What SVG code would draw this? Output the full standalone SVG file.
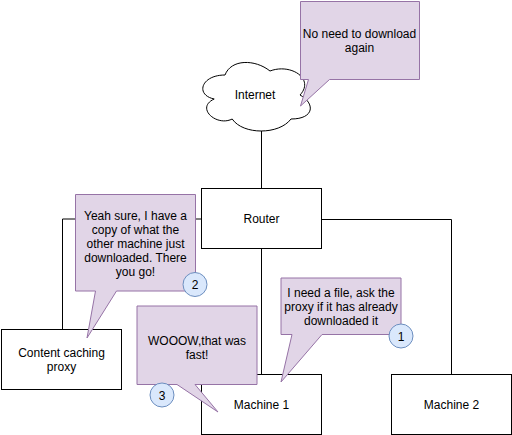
<svg xmlns="http://www.w3.org/2000/svg" width="512" height="435" viewBox="0 0 512 435">
<style>
.box{fill:#ffffff;stroke:#000000;stroke-width:1}
.call{fill:#e1d5e7;stroke:#9673a6;stroke-width:1}
.num{fill:#dae8fc;stroke:#6c8ebf;stroke-width:1}
.edge{fill:none;stroke:#000000;stroke-width:1}
text{font-family:"Liberation Sans",Arial,Helvetica,sans-serif;font-size:12px;fill:#000000;text-anchor:middle}
</style>
<rect width="512" height="435" fill="#ffffff"/>
<g id="connectors">
<path class="edge" d="M261.5,131 V188.5"/>
<path class="edge" d="M201.5,219 H62.5 V329.5"/>
<path class="edge" d="M261.5,248.5 V374.5"/>
<path class="edge" d="M321.5,219.5 H451.5 V374.5"/>
</g>
<g id="internet">
<path class="box" d="M225,75 C201,75 195,95 214.2,99 C195,107.8 216.6,127 232.2,119 C243,135 279,135 291,119 C315,119 315,103 300,95 C315,79 291,63 270,71 C255,59 231,59 225,75 Z"/>
<text x="255" y="99">Internet</text>
</g>
<g id="router">
<rect class="box" x="201.5" y="188.5" width="120" height="60"/>
<text x="261.5" y="223">Router</text>
</g>
<g id="proxy">
<rect class="box" x="1.5" y="329.5" width="120" height="60"/>
<text x="61.5" y="357">Content caching</text>
<text x="61.5" y="371">proxy</text>
</g>
<g id="machine1">
<rect class="box" x="201.5" y="374.5" width="120" height="60"/>
<text x="261.5" y="408.5">Machine 1</text>
</g>
<g id="machine2">
<rect class="box" x="391.5" y="374.5" width="120" height="60"/>
<text x="451.5" y="408.5">Machine 2</text>
</g>
<g id="callout-internet">
<path class="call" d="M300.5,1.5 H419.5 V79.5 H329.5 L300.5,106 L308.5,79.5 H300.5 Z"/>
<text x="359.5" y="37.5">No need to download</text>
<text x="359.5" y="52">again</text>
</g>
<g id="callout-proxy">
<path class="call" d="M75.5,194.5 H195.5 V291 H116.5 L87,338 L95.5,291 H75.5 Z"/>
<text x="135.5" y="220">Yeah sure, I have a</text>
<text x="135.5" y="234">copy of what the</text>
<text x="135.5" y="248">other machine just</text>
<text x="135.5" y="262">downloaded. There</text>
<text x="135.5" y="276">you go!</text>
</g>
<g id="callout-machine1-request">
<path class="call" d="M281,278 H401 V334.5 H322 L281,382 L292,334.5 H281 Z"/>
<text x="341" y="297">I need a file, ask the</text>
<text x="341" y="311">proxy if it has already</text>
<text x="341" y="325">downloaded it</text>
</g>
<g id="callout-machine1-done">
<path class="call" d="M137,306 H257 V384.5 H195 L218,412 L177,384.5 H137 Z"/>
<text x="197" y="345">WOOOW,that was</text>
<text x="197" y="359">fast!</text>
</g>
<g id="step1">
<circle class="num" cx="401" cy="336" r="12"/>
<text x="401" y="340.5">1</text>
</g>
<g id="step2">
<circle class="num" cx="195" cy="284.5" r="12"/>
<text x="195" y="289">2</text>
</g>
<g id="step3">
<circle class="num" cx="162" cy="395" r="12"/>
<text x="162" y="399.5">3</text>
</g>
</svg>
